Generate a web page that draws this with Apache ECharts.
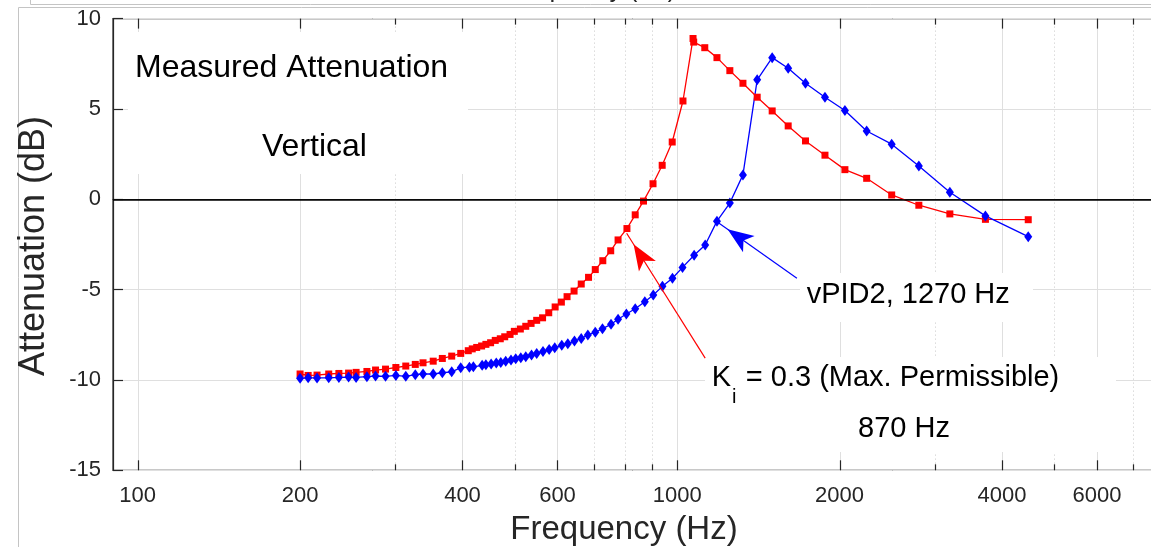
<!DOCTYPE html>
<html><head><meta charset="utf-8">
<script src="https://cdn.jsdelivr.net/npm/echarts@6/dist/echarts.min.js"></script>
<style>html,body{margin:0;padding:0;background:#fff;}#c{width:1151px;height:547px;}</style>
</head><body><div id="c"></div>
<script>
// ---- data ----
const redFreq = [200,207,215,226,236,246,254,266,276,288,301,314,327,338,353,367,382,397,410,417,425,434,442,451,460,470,479,490,499,512,524,536,549,563,578,594,610,625,644,664,685,705,728,753,777,807,836,866,902,938,979,1025,1070,1073,1125,1185,1252,1324,1407,1500,1606,1729,1879,2046,2245,2498,2805,3202,3727,4474];
const redAtt = [-9.67,-9.75,-9.73,-9.67,-9.64,-9.62,-9.58,-9.53,-9.45,-9.40,-9.31,-9.23,-9.14,-9.05,-8.96,-8.81,-8.68,-8.53,-8.38,-8.28,-8.20,-8.12,-8.03,-7.94,-7.81,-7.72,-7.61,-7.48,-7.31,-7.18,-7.03,-6.87,-6.70,-6.56,-6.28,-5.96,-5.69,-5.39,-5.08,-4.69,-4.32,-3.89,-3.40,-2.85,-2.25,-1.62,-0.86,-0.10,0.86,1.88,3.17,5.44,8.90,8.70,8.39,7.84,7.12,6.42,5.65,4.89,4.06,3.23,2.44,1.64,1.16,0.24,-0.33,-0.81,-1.11,-1.13];
const blueFreq = [200,207,215,226,236,246,254,266,276,288,301,314,327,338,353,367,382,397,412,419,435,442,452,462,471,481,492,502,513,524,537,549,564,579,593,611,627,645,664,683,705,727,754,777,805,836,871,903,939,980,1023,1075,1127,1185,1252,1324,1407,1500,1606,1729,1879,2046,2245,2498,2805,3202,3727,4474];
const blueAtt = [-9.91,-9.88,-9.89,-9.88,-9.86,-9.84,-9.86,-9.82,-9.78,-9.80,-9.75,-9.80,-9.71,-9.67,-9.67,-9.60,-9.55,-9.32,-9.29,-9.27,-9.19,-9.16,-9.11,-9.06,-9.03,-8.97,-8.90,-8.83,-8.77,-8.71,-8.62,-8.53,-8.42,-8.32,-8.22,-8.08,-8.00,-7.85,-7.70,-7.51,-7.36,-7.16,-6.92,-6.64,-6.35,-6.06,-5.67,-5.30,-4.82,-4.37,-3.77,-3.10,-2.53,-1.21,-0.21,1.35,6.61,7.84,7.25,6.42,5.65,4.91,3.78,3.05,1.84,0.39,-0.92,-2.07];
const xMajorTicks = [100,200,400,600,1000,2000,4000,6000];
const xMinorTicks = [300,500,700,800,900,3000,5000,7000];
const xTickLabels = ['100','200','400','600','1000','2000','4000','6000'];
const redArrow = [[1127,-8.79],[806,-1.88]];
const blueArrow = [[1667,-4.37],[1185,-1.24]];

const FONT = '"Liberation Sans", Arial, Helvetica, sans-serif';
const AX = '#262626';
const chart = echarts.init(document.getElementById('c'), null, {renderer:'canvas'});

chart.setOption({
  animation:false,
  grid:{left:113, top:18.6, right:-13.4, bottom:76.7, show:true, borderColor:AX, borderWidth:1.2,
        backgroundColor:'rgba(0,0,0,0)', containLabel:false, outerBoundsMode:'none'},
  xAxis:{type:'log', logBase:10, min:90, max:8000,
    axisLine:{show:true, lineStyle:{color:AX, width:1.2}},
    axisTick:{show:false}, axisLabel:{show:false}, splitLine:{show:false},
    minorTick:{show:false}, minorSplitLine:{show:false}},
  yAxis:{type:'value', min:-15, max:10, interval:5,
    axisLine:{show:true, lineStyle:{color:AX, width:1.2}},
    axisTick:{show:true, inside:true, length:10, lineStyle:{color:AX, width:1.2}},
    axisLabel:{fontSize:22, color:AX, fontFamily:FONT, margin:12},
    splitLine:{show:true, lineStyle:{color:'#dfdfdf', width:1}}},
  series:[
    {type:'line', name:'Ki', data:redFreq.map((f,i)=>[f, redAtt[i]]),
     symbol:'rect', symbolSize:7, showAllSymbol:true, z:2,
     itemStyle:{color:'#ff0000'}, lineStyle:{color:'#ff0000', width:1.3},
     emphasis:{disabled:true}, silent:true,
     markLine:{silent:true, animation:false, symbol:['none','none'], label:{show:false},
       emphasis:{disabled:true}, lineStyle:{color:'#ff0000', width:1.2, type:'solid'},
       data:[
         {yAxis:0, lineStyle:{color:'#000000', width:1.5, type:'solid'}},
         [{coord:redArrow[0]}, {coord:redArrow[1], symbol:'arrow', symbolSize:[15,26], symbolOffset:[0,'50%']}]
       ]}},
    {type:'line', name:'vPID2', data:blueFreq.map((f,i)=>[f, blueAtt[i]]),
     symbol:'diamond', symbolSize:[8,11], showAllSymbol:true, z:2,
     itemStyle:{color:'#0000ff'}, lineStyle:{color:'#0000ff', width:1.3},
     emphasis:{disabled:true}, silent:true,
     markLine:{silent:true, animation:false, symbol:['none','none'], label:{show:false},
       emphasis:{disabled:true}, lineStyle:{color:'#0000ff', width:1.2, type:'solid'},
       data:[
         [{coord:blueArrow[0]}, {coord:blueArrow[1], symbol:'arrow', symbolSize:[15,26], symbolOffset:[0,'50%']}]
       ]}}
  ]
});

const px = v => chart.convertToPixel({xAxisIndex:0}, v);
const yTop = chart.convertToPixel({yAxisIndex:0}, 10);
const yBot = chart.convertToPixel({yAxisIndex:0}, -15);
const g = [];
function ln(x1,y1,x2,y2,stroke,w,z,dash){
  g.push({type:'line', silent:true, z:z, shape:{x1:x1,y1:y1,x2:x2,y2:y2},
    style:{stroke:stroke, lineWidth:w, lineDash:dash||null}});
}
function txt(t,x,y,size,align,color,extra){
  g.push(Object.assign({type:'text', silent:true, z:6, x:x, y:y,
    style:{text:t, fontSize:size, fontFamily:FONT, fill:color||'#000',
      align:align||'left', textAlign:align||'left', verticalAlign:'middle', textVerticalAlign:'middle'}}, extra||{}));
}
xMajorTicks.forEach((v,i)=>{
  const x = Math.round(px(v))+0.5;
  ln(x,yTop,x,yBot,'#dfdfdf',1,0);
  ln(x,yBot,x,yBot-10,AX,1.2,4);
  ln(x,yTop,x,yTop+10,AX,1.2,4);
  g.push({type:'text', silent:true, z:6, x:px(v), y:yBot+15,
    style:{text:xTickLabels[i], fontSize:22, fontFamily:FONT, fill:AX,
      align:'center', textAlign:'center', verticalAlign:'top', textVerticalAlign:'top'}});
});
xMinorTicks.forEach(v=>{
  const x = Math.round(px(v))+0.5;
  ln(x,yTop,x,yBot,'#c8c8c8',1,0,[1,3]);
  ln(x,yBot,x,yBot-6,AX,1.2,4);
  ln(x,yTop,x,yTop+6,AX,1.2,4);
});
// white annotation boxes
[[128,32,340,142],[800,273,233,49],[705,357,411,95]].forEach(r=>{
  g.push({type:'rect', silent:true, z:1, shape:{x:r[0],y:r[1],width:r[2],height:r[3]}, style:{fill:'#ffffff'}});
});
// annotation texts
txt('Measured Attenuation',135,68,32,'left');
txt('Vertical',262,147.5,32,'left');
txt('vPID2, 1270 Hz',806.7,295,29,'left');
txt('K',711.7,378,29,'left');
txt('i',732,397,20,'left');
txt('= 0.3 (Max. Permissible)',745.8,378,29,'left');
txt('870 Hz',858,429,29,'left');
// axis titles
txt('Frequency (Hz)',624,530,33,'center',AX);
txt('Attenuation (dB)',34,246,36,'center',AX,{rotation:Math.PI/2});
// clipped title of the panel above
g.push({type:'text', silent:true, z:6, x:590, y:3,
  style:{text:'Frequency (Hz)', fontSize:25, fontFamily:FONT, fill:AX,
    align:'center', textAlign:'center', verticalAlign:'bottom', textVerticalAlign:'bottom'}});
// outer figure frames
ln(30.5,0,30.5,4.5,'#c4c4c4',1,0);
ln(30.5,4.5,1151,4.5,'#c4c4c4',1,0);
ln(18.5,7.5,1151,7.5,'#c4c4c4',1,0);
ln(18.5,7.5,18.5,547,'#c4c4c4',1,0);

chart.setOption({graphic:{elements:g}});
</script></body></html>
